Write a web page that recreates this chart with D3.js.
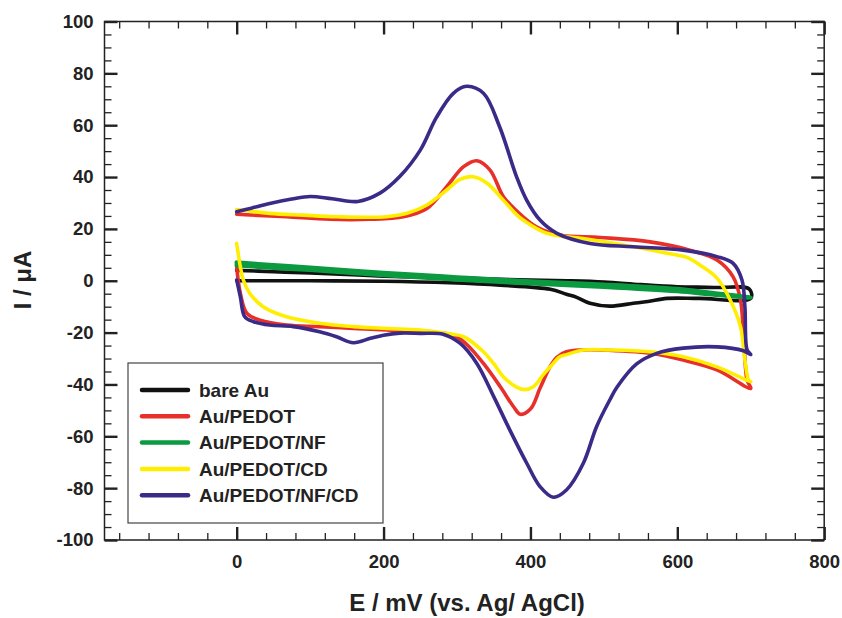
<!DOCTYPE html>
<html>
<head>
<meta charset="utf-8">
<script src="https://cdn.jsdelivr.net/npm/d3@7"></script>
<style>
  html, body { margin: 0; padding: 0; background: #fff; }
  svg { display: block; font-family: "Liberation Sans", Arial, Helvetica, sans-serif; }
</style>
</head>
<body>
<svg id="chart" width="842" height="618"></svg>
<script>
// ---------------- DATA ----------------
const seriesNames = ["bare Au", "Au/PEDOT", "Au/PEDOT/NF", "Au/PEDOT/CD", "Au/PEDOT/NF/CD"];
const seriesColors = ["#111111", "#e8302a", "#0b9a40", "#ffee00", "#3b2a87"];

const xMajorTicks = [0, 200, 400, 600, 800];
const yMajorTicks = [-100, -80, -60, -40, -20, 0, 20, 40, 60, 80, 100];

// [E (mV), I (uA)] in scan order
const bareAu = [[0,4],[50,3.5],[100,3],[200,1.8],[300,1],[400,0.3],[450,0],[500,-0.5],[550,-1.5],[600,-2.3],[650,-2.6],[698,-3.2],[700,-6.8],
  [630,-6.8],[586,-6.8],[560,-8],[540,-8.7],[508,-9.8],[481,-8.7],[463,-6.4],[449,-5.2],[427,-3.3],[359,-1.7],[290,-0.8],[200,-0.2],[100,0],[0,0]];

const auPedot = [[0,25.7],[30,25.2],[68,24.7],[127,23.7],[181,23.7],[227,24.7],[259,27.9],[286,36.3],[309,44],[327,46.3],[345,42.7],[363,32.5],[381,27],[408,20.8],[440,17.6],[495,16.7],[563,15],[617,11.8],[654,8],[676,1.5],[686,-7.4],[690,-20.3],[695,-38.3],[700,-41.5],
  [654,-34.4],[608,-30.6],[563,-28],[495,-26.7],[472,-26.7],[449,-27.4],[436,-29.5],[427,-33],[413,-41.5],[400,-49.5],[386,-51.5],[377,-48.6],[359,-40.9],[336,-31.9],[313,-24.5],[295,-21],[250,-19.7],[204,-19],[159,-18.4],[113,-17.7],[68,-17.1],[32,-15.2],[14,-12.6],[5,-4.9],[0,5.4]];

const auPedotNf = [[0,7],[50,6],[100,5],[200,3],[300,1.3],[400,-0.3],[500,-1.5],[600,-3.2],[650,-4.8],[700,-6.5],
  [650,-5.3],[600,-4],[500,-2.3],[400,-1],[300,0.5],[200,2.2],[100,4.2],[50,5],[0,6]];

const auPedotCd = [[0,27.5],[45,26],[91,25.3],[136,24.7],[204,24.7],[232,26],[259,29.2],[286,35],[304,39.1],[322,40.1],[341,37.6],[363,31.1],[381,25.5],[390,23.4],[422,18.3],[472,16.3],[540,13.1],[586,10.6],[613,9],[631,6],[654,1],[672,-7.4],[686,-17.7],[692,-30.6],[697,-38.3],[700,-39],
  [654,-33.2],[608,-29.3],[563,-27.4],[508,-26.7],[472,-26.7],[449,-28.5],[440,-29.3],[427,-33.2],[418,-36],[404,-40.9],[392,-42],[381,-41],[363,-37],[350,-32],[336,-27.4],[309,-21.6],[290,-20.5],[250,-19],[204,-18.4],[159,-17.7],[113,-16.4],[68,-13.9],[36,-10],[18,-4.9],[9,0.3],[5,5.4],[0,14.4]];

const auPedotNfCd = [[0,26.6],[20,28],[45,29.8],[75,31.5],[100,32.5],[130,31.6],[165,30.6],[195,33.8],[222,40.2],[250,50.4],[272,63],[295,72.3],[313,75],[336,72.3],[358,59.4],[381,40.2],[395,31],[413,23.4],[436,18.3],[481,14.4],[540,13.1],[608,11.8],[654,9.3],[676,6.7],[688,0.3],[692,-10],[695,-26.7],[700,-28.5],
  [690,-27],[654,-25.5],[608,-26],[572,-28],[545,-32],[518,-41],[508,-46],[490,-56.3],[472,-70.4],[449,-80.7],[431,-83.5],[413,-79.4],[395,-70.4],[372,-57.6],[350,-44.7],[327,-31.9],[304,-24.1],[281,-20.6],[250,-20.3],[222,-20.2],[200,-21],[182,-22.2],[159,-23.9],[136,-21.6],[113,-19.7],[77,-17.7],[45,-17.1],[23,-15.8],[11,-13.9],[5,-6.2],[0,0.3]];

const seriesData = [bareAu, auPedot, auPedotNf, auPedotCd, auPedotNfCd];

// ---------------- LAYOUT ----------------
const svg = d3.select("#chart");
const L = 104.5, R = 824.2, T = 21.5, B = 540;
const x = d3.scaleLinear().domain([-180, 800]).range([L, R]);
const y = d3.scaleLinear().domain([-100, 100]).range([B, T]);

const xMinor = d3.range(-160, 800, 40).filter(v => v % 200 !== 0);
const yMinor = d3.range(-95, 100, 5).filter(v => v % 20 !== 0);
const fmt = d => String(d);

const majorLen = 13, minorLen = 7;
function styleAxis(g, w) {
  g.select(".domain").remove();
  g.selectAll(".tick line").attr("stroke", "#222").attr("stroke-width", w);
  g.selectAll("text").attr("font-size", 18.5).attr("font-weight", "bold").attr("fill", "#222");
}

// bottom
svg.append("g").attr("transform", `translate(0,${B})`)
  .call(d3.axisBottom(x).tickValues(xMinor).tickSize(-minorLen).tickFormat(""))
  .call(g => styleAxis(g, 1.3));
svg.append("g").attr("transform", `translate(0,${B})`)
  .call(d3.axisBottom(x).tickValues(xMajorTicks).tickSize(-majorLen).tickPadding(15).tickFormat(fmt))
  .call(g => styleAxis(g, 2.4));
// top
svg.append("g").attr("transform", `translate(0,${T})`)
  .call(d3.axisTop(x).tickValues(xMinor).tickSize(-minorLen).tickFormat(""))
  .call(g => styleAxis(g, 1.3));
svg.append("g").attr("transform", `translate(0,${T})`)
  .call(d3.axisTop(x).tickValues(xMajorTicks).tickSize(-majorLen).tickFormat(""))
  .call(g => styleAxis(g, 2.4));
// left
svg.append("g").attr("transform", `translate(${L},0)`)
  .call(d3.axisLeft(y).tickValues(yMinor).tickSize(-minorLen).tickFormat(""))
  .call(g => styleAxis(g, 1.3));
svg.append("g").attr("transform", `translate(${L},0)`)
  .call(d3.axisLeft(y).tickValues(yMajorTicks).tickSize(-majorLen).tickPadding(11).tickFormat(fmt))
  .call(g => styleAxis(g, 2.4));
// right
svg.append("g").attr("transform", `translate(${R},0)`)
  .call(d3.axisRight(y).tickValues(yMinor).tickSize(-minorLen).tickFormat(""))
  .call(g => styleAxis(g, 1.3));
svg.append("g").attr("transform", `translate(${R},0)`)
  .call(d3.axisRight(y).tickValues(yMajorTicks).tickSize(-majorLen).tickFormat(""))
  .call(g => styleAxis(g, 2.4));

// frame
svg.append("rect").attr("x", L).attr("y", T).attr("width", R - L).attr("height", B - T)
  .attr("fill", "none").attr("stroke", "#222").attr("stroke-width", 1.5);

// curves
const line = d3.line().x(d => x(d[0])).y(d => y(d[1])).curve(d3.curveCatmullRom.alpha(0.5));
svg.append("g").selectAll("path").data(seriesData).join("path")
  .attr("d", line)
  .attr("fill", "none")
  .attr("stroke", (d, i) => seriesColors[i])
  .attr("stroke-width", (d, i) => i === 2 ? 4.5 : 3.6)
  .attr("stroke-linejoin", "round").attr("stroke-linecap", "round");

// legend
const lg = svg.append("g");
lg.append("rect").attr("x", 128).attr("y", 363).attr("width", 255).attr("height", 160)
  .attr("fill", "#fff").attr("stroke", "#444").attr("stroke-width", 1.2);
const rows = lg.selectAll("g.row").data(seriesNames).join("g").attr("class", "row")
  .attr("transform", (d, i) => `translate(0,${390 + i * 26.3})`);
rows.append("line").attr("x1", 142).attr("x2", 188).attr("y1", 0).attr("y2", 0)
  .attr("stroke", (d, i) => seriesColors[i]).attr("stroke-width", 4.5).attr("stroke-linecap", "round");
rows.append("text").attr("x", 199).attr("y", 0).attr("dy", "0.36em")
  .attr("font-size", 19).attr("font-weight", "bold").attr("fill", "#222").text(d => d);

// axis titles
svg.append("text").attr("x", 467).attr("y", 611).attr("text-anchor", "middle")
  .attr("font-size", 24).attr("font-weight", "bold").attr("fill", "#222")
  .text("E / mV (vs. Ag/ AgCl)");
svg.append("text").attr("transform", "translate(31,280) rotate(-90)").attr("text-anchor", "middle")
  .attr("font-size", 24).attr("font-weight", "bold").attr("fill", "#222")
  .text("I / \u03BCA");
</script>
</body>
</html>
